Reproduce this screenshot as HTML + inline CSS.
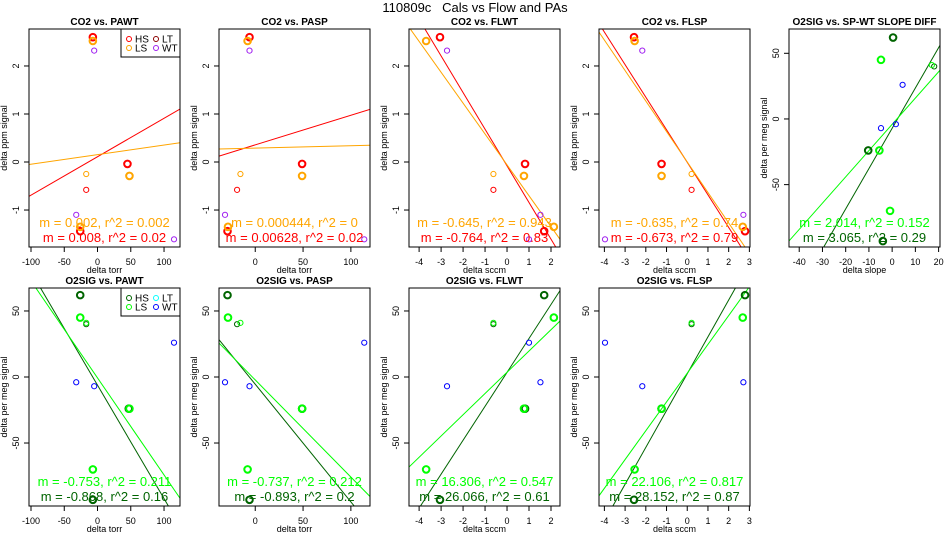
<!DOCTYPE html>
<html><head><meta charset="utf-8"><style>
html,body{margin:0;padding:0;background:#fff;}
svg{display:block;font-family:"Liberation Sans",sans-serif;}
</style></head><body>
<svg id="chart" width="950" height="550" viewBox="0 0 950 550">
<text x="475" y="12" text-anchor="middle" font-size="13" style="white-space:pre">110809c   Cals vs Flow and PAs</text>
</svg>
<script>
// CO2 y values (shared across CO2 panels)
const co2Y_HS=[2.6,-0.04,-1.44];
const co2Y_LS=[2.52,-0.29,-1.35];
const co2Y_LTr=[-0.58];
const co2Y_LTo=[-0.25];
const co2Y_WT=[2.32,-1.1,-1.61];
// O2 y values
const o2Y_HS=[62,-24,-93];
const o2Y_LS=[45,-24,-70];
const o2Y_LTd=[40];
const o2Y_LTg=[41];
const o2Y_WT=[26,-4,-7];
// x values per panel
const pawtCo2X_HS=[-7,45,-26], pawtCo2X_LS=[-7,48,-26], pawtCo2X_LTr=[-17], pawtCo2X_LTo=[-17], pawtCo2X_WT=[-5,-32,115];
const paspCo2X_HS=[-6,49,-29], paspCo2X_LS=[-8,49,-28.5], paspCo2X_LTr=[-19], paspCo2X_LTo=[-15.5], paspCo2X_WT=[-6,-31.6,114];
const flwtCo2X_HS=[-3.05,0.82,1.69], flwtCo2X_LS=[-3.68,0.77,2.13], flwtCo2X_LTr=[-0.62], flwtCo2X_LTo=[-0.62], flwtCo2X_WT=[-2.73,1.52,1.0];
const flspCo2X_HS=[-2.57,-1.24,2.79], flspCo2X_LS=[-2.54,-1.24,2.68], flspCo2X_LTr=[0.21], flspCo2X_LTo=[0.21], flspCo2X_WT=[-2.17,2.71,-3.97];
const pawtO2X_HS=[-26,47,-7], pawtO2X_LS=[-26,48,-7], pawtO2X_LTd=[-17], pawtO2X_LTg=[-17], pawtO2X_WT=[115,-32,-5];
const paspO2X_HS=[-29,49,-6], paspO2X_LS=[-28.5,49,-8], paspO2X_LTd=[-19], paspO2X_LTg=[-15.5], paspO2X_WT=[114,-31.6,-6];
const flwtO2X_HS=[1.69,0.82,-3.05], flwtO2X_LS=[2.13,0.77,-3.68], flwtO2X_LTd=[-0.62], flwtO2X_LTg=[-0.62], flwtO2X_WT=[1.0,1.52,-2.73];
const flspO2X_HS=[2.79,-1.24,-2.57], flspO2X_LS=[2.68,-1.24,-2.54], flspO2X_LTd=[0.21], flspO2X_LTg=[0.21], flspO2X_WT=[-3.97,2.71,-2.17];
const slopeO2X_HS=[0.4,-10.3,-4], slopeO2X_LS=[-4.8,-5.5,-0.9], slopeO2X_LTd=[18.1], slopeO2X_LTg=[17.1], slopeO2X_WT=[4.5,1.6,-4.8];
// fit lines [slope, intercept]
const fitPawtCo2=[[0.008,0.11],[0.002,0.154]];
const fitPaspCo2=[[0.00617,0.357],[0.0005,0.29]];
const fitFlwtCo2=[[-0.763,-0.08],[-0.643,-0.06]];
const fitFlspCo2=[[-0.678,-0.006],[-0.635,0.0]];
const fitPawtO2=[[-0.859,-6.2],[-0.735,-0.7]];
const fitPaspO2=[[-0.891,-5.5],[-0.736,-2.2]];
const fitFlwtO2=[[25.7,3.5],[16.1,3.6]];
const fitFlspO2=[[27.9,2.5],[21.8,2.9]];
const fitSlopeO2=[[3.07,-7.1],[2.0,-4.1]];
// tick labels
const co2YTicks=[-1,0,1,2];
const o2YTicks=[-50,0,50];
const pawtXTicks=[-100,-50,0,50,100];
const paspXTicks=[0,50,100];
const flwtXTicks=[-4,-3,-2,-1,0,1,2];
const flspXTicks=[-4,-3,-2,-1,0,1,2,3];
const slopeXTicks=[-40,-30,-20,-10,0,10,20];
// annotations
const notePawtCo2=["m = 0.002, r^2 = 0.002","m = 0.008, r^2 = 0.02"];
const notePaspCo2=["m = 0.000444, r^2 = 0","m = 0.00628, r^2 = 0.02"];
const noteFlwtCo2=["m = -0.645, r^2 = 0.943","m = -0.764, r^2 = 0.83"];
const noteFlspCo2=["m = -0.635, r^2 = 0.74","m = -0.673, r^2 = 0.79"];
const notePawtO2=["m = -0.753, r^2 = 0.211","m = -0.868, r^2 = 0.16"];
const notePaspO2=["m = -0.737, r^2 = 0.212","m = -0.893, r^2 = 0.2"];
const noteFlwtO2=["m = 16.306, r^2 = 0.547","m = 26.066, r^2 = 0.61"];
const noteFlspO2=["m = 22.106, r^2 = 0.817","m = 28.152, r^2 = 0.87"];
const noteSlopeO2=["m = 2.014, r^2 = 0.152","m = 3.065, r^2 = 0.29"];

const NS="http://www.w3.org/2000/svg";
const svg=document.getElementById('chart');
function mk(tag,attrs,parent){const e=document.createElementNS(NS,tag);for(const k in attrs)e.setAttribute(k,attrs[k]);(parent||svg).appendChild(e);return e;}

const RED='#ff0000',ORANGE='#ffa500',DRED='#8b0000',PURPLE='#a020f0',DGREEN='#006400',GREEN='#00ff00',CYAN='#00ffff',BLUE='#0000ff';
let clipN=0;
function panel(cfg){
  const L=cfg.left,R=cfg.left+151,T=cfg.top,B=cfg.top+218;
  const g=mk('g',{});
  
  
  const sx=v=>L+(v-cfg.xr[0])/(cfg.xr[1]-cfg.xr[0])*(R-L);
  const sy=v=>B-(v-cfg.yr[0])/(cfg.yr[1]-cfg.yr[0])*(B-T);
  const id='clip'+(clipN++);
  const cp=mk('clipPath',{id:id},g);mk('rect',{x:L,y:T,width:R-L,height:B-T},cp);
  const t=mk('text',{x:(L+R)/2,y:T-4,'text-anchor':'middle','font-size':'10','font-weight':'bold'},g);t.textContent=cfg.title;
  
  
  mk('line',{x1:sx(cfg.xt[0]),x2:sx(cfg.xt[cfg.xt.length-1]),y1:B,y2:B,stroke:'#000'},g);
  cfg.xt.forEach(v=>{const x=sx(v);mk('line',{x1:x,x2:x,y1:B,y2:B+5,stroke:'#000'},g);
    const tx=mk('text',{x:x,y:B+18,'text-anchor':'middle','font-size':'9'},g);tx.textContent=v;
    
    });
  const xl=mk('text',{x:(L+R)/2,y:B+26,'text-anchor':'middle','font-size':'9'},g);xl.textContent=cfg.xlab;
  
  
  cfg.yt.forEach(v=>{const y=sy(v);mk('line',{x1:L-5,x2:L,y1:y,y2:y,stroke:'#000'},g);
    const ty=mk('text',{x:L-10,y:y,'text-anchor':'middle','font-size':'9',transform:`rotate(-90 ${L-10} ${y})`},g);ty.textContent=v;
    
    });
  const yx=L-22,yy=(T+B)/2;
  const yl=mk('text',{x:yx,y:yy,'text-anchor':'middle','font-size':'9',transform:`rotate(-90 ${yx} ${yy})`},g);yl.textContent=cfg.ylab;
  
  
  const cg=mk('g',{'clip-path':`url(#${id})`},g);
  cfg.fits.forEach((f,i)=>{const x0=cfg.xr[0],x1=cfg.xr[1];
    const ln=mk('line',{x1:sx(x0),y1:sy(f[0]*x0+f[1]),x2:sx(x1),y2:sy(f[0]*x1+f[1]),stroke:cfg.fitCols[i],'stroke-width':1},cg);
    
    });
  cfg.series.forEach(s=>{s.x.forEach((xv,i)=>{
    const c=mk('circle',{cx:sx(xv),cy:sy(s.y[i]),r:s.thick?3.3:2.6,fill:'none',stroke:s.col,'stroke-width':s.thick?2:1},cg);
    
    });});
  cfg.notes.forEach((n,i)=>{const tn=mk('text',{x:(L+R)/2,y:B-20+i*15,'text-anchor':'middle','font-size':'13',fill:cfg.fitCols[1-i]},g);tn.textContent=n;
    
    });
  mk('rect',{x:L,y:T,width:R-L,height:B-T,fill:'none',stroke:'#000','stroke-width':1},g);
  if(cfg.legend){const lg=mk('g',{},g);
    
    
    mk('rect',{x:R-59,y:T,width:59,height:28,fill:'#fff',stroke:'#000'},lg);
    cfg.legend.forEach((e,i)=>{const cx=R-51+(i>>1)*27,cy=T+10+(i&1)*9;
      const lc=mk('circle',{cx:cx,cy:cy,r:2.5,fill:'none',stroke:e[1]},lg);
      
      
      const lt=mk('text',{x:cx+6,y:cy+3.5,'font-size':'10'},lg);lt.textContent=e[0];
      
      });}
}
function co2Series(xh,xl,xr,xo,xw){return [
  {x:xh,y:co2Y_HS,col:RED,thick:true},{x:xl,y:co2Y_LS,col:ORANGE,thick:true},
  {x:xr,y:co2Y_LTr,col:RED,thick:false},{x:xo,y:co2Y_LTo,col:ORANGE,thick:false},
  {x:xw,y:co2Y_WT,col:PURPLE,thick:false}];}
function o2Series(xh,xl,xd,xg,xw){return [
  {x:xh,y:o2Y_HS,col:DGREEN,thick:true},{x:xl,y:o2Y_LS,col:GREEN,thick:true},
  {x:xd,y:o2Y_LTd,col:DGREEN,thick:false},{x:xg,y:o2Y_LTg,col:GREEN,thick:false},
  {x:xw,y:o2Y_WT,col:BLUE,thick:false}];}
const co2Cols=[RED,ORANGE],o2Cols=[DGREEN,GREEN];
const topY=[-1.77,2.77],botY=[-97.7,67.4];
const rP1=[-103,124],rP2=[-37.9,120],rP3=[-4.46,2.41],rP4=[-4.26,3.03];
panel({name:'co2-vs-pawt-panel',title:'CO2 vs. PAWT',left:29,top:29,xr:rP1,yr:topY,xt:pawtXTicks,yt:co2YTicks,xlab:'delta torr',ylab:'delta ppm signal',fits:fitPawtCo2,fitCols:co2Cols,notes:notePawtCo2,
  series:co2Series(pawtCo2X_HS,pawtCo2X_LS,pawtCo2X_LTr,pawtCo2X_LTo,pawtCo2X_WT),legend:[['HS',RED],['LS',ORANGE],['LT',DRED],['WT',PURPLE]]});
panel({name:'co2-vs-pasp-panel',title:'CO2 vs. PASP',left:219,top:29,xr:rP2,yr:topY,xt:paspXTicks,yt:co2YTicks,xlab:'delta torr',ylab:'delta ppm signal',fits:fitPaspCo2,fitCols:co2Cols,notes:notePaspCo2,
  series:co2Series(paspCo2X_HS,paspCo2X_LS,paspCo2X_LTr,paspCo2X_LTo,paspCo2X_WT)});
panel({name:'co2-vs-flwt-panel',title:'CO2 vs. FLWT',left:409,top:29,xr:rP3,yr:topY,xt:flwtXTicks,yt:co2YTicks,xlab:'delta sccm',ylab:'delta ppm signal',fits:fitFlwtCo2,fitCols:co2Cols,notes:noteFlwtCo2,
  series:co2Series(flwtCo2X_HS,flwtCo2X_LS,flwtCo2X_LTr,flwtCo2X_LTo,flwtCo2X_WT)});
panel({name:'co2-vs-flsp-panel',title:'CO2 vs. FLSP',left:599,top:29,xr:rP4,yr:topY,xt:flspXTicks,yt:co2YTicks,xlab:'delta sccm',ylab:'delta ppm signal',fits:fitFlspCo2,fitCols:co2Cols,notes:noteFlspCo2,
  series:co2Series(flspCo2X_HS,flspCo2X_LS,flspCo2X_LTr,flspCo2X_LTo,flspCo2X_WT)});
panel({name:'o2sig-vs-slope-diff-panel',title:'O2SIG vs. SP-WT SLOPE DIFF',left:789,top:29,xr:[-44.4,20.6],yr:[-97.5,68.5],xt:slopeXTicks,yt:o2YTicks,xlab:'delta slope',ylab:'delta per meg signal',fits:fitSlopeO2,fitCols:o2Cols,notes:noteSlopeO2,
  series:o2Series(slopeO2X_HS,slopeO2X_LS,slopeO2X_LTd,slopeO2X_LTg,slopeO2X_WT)});
panel({name:'o2sig-vs-pawt-panel',title:'O2SIG vs. PAWT',left:29,top:288,xr:rP1,yr:botY,xt:pawtXTicks,yt:o2YTicks,xlab:'delta torr',ylab:'delta per meg signal',fits:fitPawtO2,fitCols:o2Cols,notes:notePawtO2,
  series:o2Series(pawtO2X_HS,pawtO2X_LS,pawtO2X_LTd,pawtO2X_LTg,pawtO2X_WT),legend:[['HS',DGREEN],['LS',GREEN],['LT',CYAN],['WT',BLUE]]});
panel({name:'o2sig-vs-pasp-panel',title:'O2SIG vs. PASP',left:219,top:288,xr:rP2,yr:botY,xt:paspXTicks,yt:o2YTicks,xlab:'delta torr',ylab:'delta per meg signal',fits:fitPaspO2,fitCols:o2Cols,notes:notePaspO2,
  series:o2Series(paspO2X_HS,paspO2X_LS,paspO2X_LTd,paspO2X_LTg,paspO2X_WT)});
panel({name:'o2sig-vs-flwt-panel',title:'O2SIG vs. FLWT',left:409,top:288,xr:rP3,yr:botY,xt:flwtXTicks,yt:o2YTicks,xlab:'delta sccm',ylab:'delta per meg signal',fits:fitFlwtO2,fitCols:o2Cols,notes:noteFlwtO2,
  series:o2Series(flwtO2X_HS,flwtO2X_LS,flwtO2X_LTd,flwtO2X_LTg,flwtO2X_WT)});
panel({name:'o2sig-vs-flsp-panel',title:'O2SIG vs. FLSP',left:599,top:288,xr:rP4,yr:botY,xt:flspXTicks,yt:o2YTicks,xlab:'delta sccm',ylab:'delta per meg signal',fits:fitFlspO2,fitCols:o2Cols,notes:noteFlspO2,
  series:o2Series(flspO2X_HS,flspO2X_LS,flspO2X_LTd,flspO2X_LTg,flspO2X_WT)});
</script>
</body></html>
